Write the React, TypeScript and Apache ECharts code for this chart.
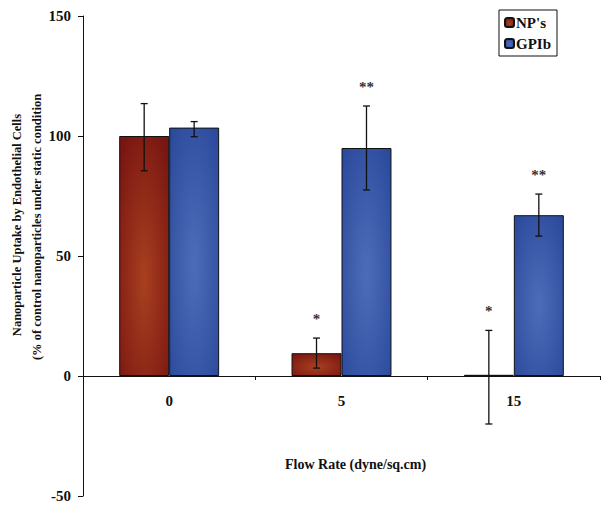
import React, { useEffect, useRef } from "react";
import * as echarts from "echarts";

const categories = ["0", "5", "15"];
const seriesNames = ["NP's", "GPIb"];
const npValues = [100, 9.5, 0.5];
const gpValues = [103.5, 95, 67];
const npErrLow = [85.5, 3.3, -20];
const npErrHigh = [113.5, 15.8, 19];
const gpErrLow = [99.7, 77.5, 58.3];
const gpErrHigh = [106, 112.5, 75.8];
const npSig = ["", "*", "*"];
const gpSig = ["", "**", "**"];
const yTicks = { min: -50, max: 150, interval: 50 };
const yTitle1 = "Nanoparticle Uptake by Endothelial Cells";
const yTitle2 = "(% of control nanoparticles under static condition";
const xTitle = "Flow Rate (dyne/sq.cm)";

const FONT = "'Liberation Serif', 'Times New Roman', serif";
const GAP = 0.42;

function errItem(side: number) {
  return (params: any, api: any) => {
    const cat = api.value(0);
    const lo = api.value(1);
    const hi = api.value(2);
    const band = api.size([1, 0])[0];
    const off = side * band * (1 - GAP) / 4;
    const pLo = api.coord([cat, lo]);
    const pHi = api.coord([cat, hi]);
    const x = pLo[0] + off;
    const cap = 3.5;
    const st = { stroke: "#111", lineWidth: 1.3 };
    return {
      type: "group",
      children: [
        { type: "line", shape: { x1: x, y1: pLo[1], x2: x, y2: pHi[1] }, style: st },
        { type: "line", shape: { x1: x - cap, y1: pLo[1], x2: x + cap, y2: pLo[1] }, style: st },
        { type: "line", shape: { x1: x - cap, y1: pHi[1], x2: x + cap, y2: pHi[1] }, style: st },
      ],
    };
  };
}

function sigItem(side: number, labels: string[]) {
  return (params: any, api: any) => {
    const cat = api.value(0);
    const hi = api.value(1);
    const txt = labels[params.dataIndex];
    if (!txt) return { type: "group", children: [] };
    const band = api.size([1, 0])[0];
    const off = side * band * (1 - GAP) / 4;
    const p = api.coord([cat, hi]);
    return {
      type: "text",
      style: {
        text: txt,
        x: p[0] + off,
        y: p[1] - 19,
        align: "center",
        verticalAlign: "middle",
        font: `bold 15px ${FONT}`,
        fill: "#333",
      },
    };
  };
}

function catLabelItem(params: any, api: any) {
  const cat = api.value(0);
  const p = api.coord([cat, 0]);
  return {
    type: "text",
    style: {
      text: categories[params.dataIndex],
      x: p[0],
      y: p[1] + 25,
      align: "center",
      verticalAlign: "middle",
      font: `bold 15px ${FONT}`,
      fill: "#111",
    },
  };
}

const redFill = new echarts.graphic.RadialGradient(0.5, 0.6, 0.7, [
  { offset: 0, color: "#a8401f" },
  { offset: 1, color: "#7a1612" },
]);
const blueFill = new echarts.graphic.RadialGradient(0.5, 0.55, 0.7, [
  { offset: 0, color: "#4d6cb8" },
  { offset: 1, color: "#2c4a9c" },
]);

export default function App() {
  const ref = useRef<HTMLDivElement>(null);
  useEffect(() => {
    if (!ref.current) return;
    const chart = echarts.init(ref.current, null, { renderer: "svg" });
    chart.setOption({
      animation: false,
      backgroundColor: "#fff",
      textStyle: { fontFamily: FONT },
      grid: { left: 83, right: 11, top: 16, bottom: 15, containLabel: false, outerBoundsMode: "none" },
      legend: {
        right: 54,
        top: 10,
        orient: "vertical",
        data: seriesNames,
        itemWidth: 9,
        itemHeight: 9,
        itemGap: 6,
        padding: [5, 6, 5, 5],
        borderColor: "#111",
        borderWidth: 1,
        textStyle: { fontFamily: FONT, fontWeight: "bold", fontSize: 15, color: "#111", padding: [0, 0, 0, -3] },
      },
      xAxis: {
        type: "category",
        data: categories,
        axisLine: { onZero: true, lineStyle: { color: "#111", width: 1 } },
        axisTick: { show: true, length: 4, lineStyle: { color: "#111" } },
        axisLabel: { show: false },
      },
      yAxis: {
        type: "value",
        min: yTicks.min,
        max: yTicks.max,
        interval: yTicks.interval,
        splitLine: { show: false },
        axisLine: { show: true, lineStyle: { color: "#111" } },
        axisTick: { show: true, length: 5, lineStyle: { color: "#111" } },
        axisLabel: { margin: 12, fontFamily: FONT, fontWeight: "bold", fontSize: 15, color: "#111" },
      },
      graphic: [
        {
          type: "text",
          x: 17,
          y: 225,
          rotation: Math.PI / 2,
          style: { text: yTitle1, font: `bold 12.5px ${FONT}`, fill: "#111", align: "center", verticalAlign: "middle" },
        },
        {
          type: "text",
          x: 37,
          y: 227,
          rotation: Math.PI / 2,
          style: { text: yTitle2, font: `bold 12.5px ${FONT}`, fill: "#111", align: "center", verticalAlign: "middle" },
        },
        {
          type: "text",
          left: 285,
          top: 457,
          style: { text: xTitle, font: `bold 14px ${FONT}`, fill: "#111" },
        },
      ],
      series: [
        {
          name: seriesNames[0],
          type: "bar",
          data: npValues,
          barGap: "0%",
          barCategoryGap: "42%",
          itemStyle: { color: redFill, borderColor: "#111", borderWidth: 1 },
        },
        {
          name: seriesNames[1],
          type: "bar",
          data: gpValues,
          barGap: "0%",
          barCategoryGap: "42%",
          itemStyle: { color: blueFill, borderColor: "#111", borderWidth: 1 },
        },
        {
          type: "custom",
          renderItem: errItem(-1),
          data: categories.map((_, i) => [i, npErrLow[i], npErrHigh[i]]),
          z: 5,
        },
        {
          type: "custom",
          renderItem: errItem(1),
          data: categories.map((_, i) => [i, gpErrLow[i], gpErrHigh[i]]),
          z: 5,
        },
        {
          type: "custom",
          renderItem: sigItem(-1, npSig),
          data: categories.map((_, i) => [i, npErrHigh[i]]),
          z: 5,
        },
        {
          type: "custom",
          renderItem: sigItem(1, gpSig),
          data: categories.map((_, i) => [i, gpErrHigh[i]]),
          z: 5,
        },
        {
          type: "custom",
          renderItem: catLabelItem,
          data: categories.map((_, i) => [i, 0]),
          z: 5,
        },
      ],
    });
    return () => chart.dispose();
  }, []);
  return <div ref={ref} style={{ width: 611, height: 511, position: "absolute", left: 0, top: 0 }} />;
}
